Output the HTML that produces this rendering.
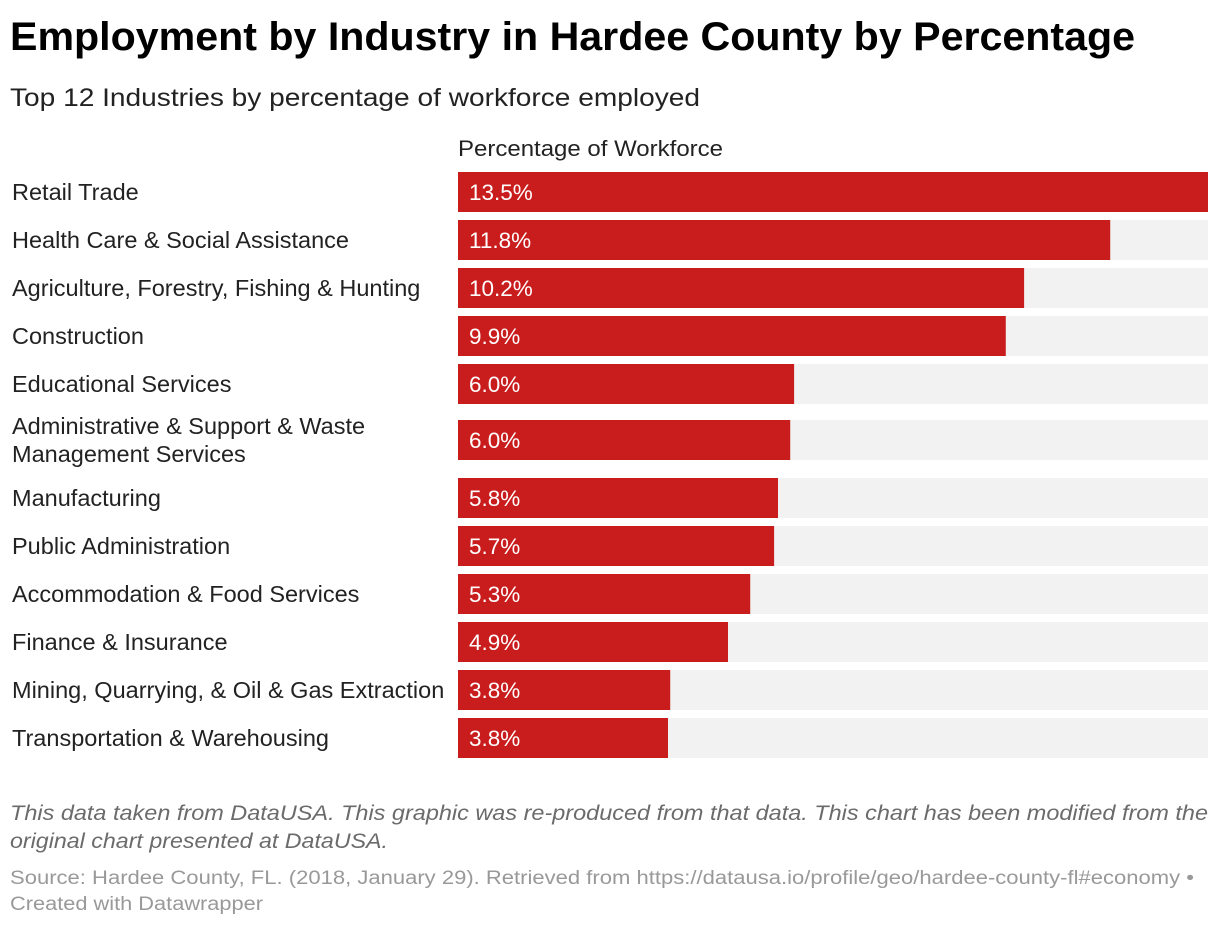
<!DOCTYPE html>
<html><head><meta charset="utf-8"><style>
body{margin:0;background:#fff;}
svg{display:block;font-family:"Liberation Sans",Arial,sans-serif;}
</style></head><body>
<svg id="chart" width="1220" height="926" viewBox="0 0 1220 926">
<text x="10" y="50" font-size="40" font-weight="bold" fill="#000" textLength="1125" lengthAdjust="spacingAndGlyphs">Employment by Industry in Hardee County by Percentage</text>
<text x="10" y="106" font-size="25" fill="#222" textLength="690" lengthAdjust="spacingAndGlyphs">Top 12 Industries by percentage of workforce employed</text>
<text x="458" y="156" font-size="22" fill="#222" textLength="265" lengthAdjust="spacingAndGlyphs">Percentage of Workforce</text>
<g id="bars"></g>
<text x="10" y="820" font-size="21" font-style="italic" fill="#6b6b6b" textLength="1198" lengthAdjust="spacingAndGlyphs">This data taken from DataUSA. This graphic was re-produced from that data. This chart has been modified from the</text>
<text x="10" y="848" font-size="21" font-style="italic" fill="#6b6b6b" textLength="378" lengthAdjust="spacingAndGlyphs">original chart presented at DataUSA.</text>
<text x="10" y="884" font-size="19" fill="#999" textLength="1184" lengthAdjust="spacingAndGlyphs">Source: Hardee County, FL. (2018, January 29). Retrieved from https://datausa.io/profile/geo/hardee-county-fl#economy •</text>
<text x="10" y="910" font-size="19" fill="#999" textLength="253" lengthAdjust="spacingAndGlyphs">Created with Datawrapper</text>
</svg>
<script>
const categories = ["Retail Trade","Health Care & Social Assistance","Agriculture, Forestry, Fishing & Hunting","Construction","Educational Services","Administrative & Support & Waste|Management Services","Manufacturing","Public Administration","Accommodation & Food Services","Finance & Insurance","Mining, Quarrying, & Oil & Gas Extraction","Transportation & Warehousing"];
const values = [13.5,11.74,10.19,9.86,6.05,5.98,5.76,5.69,5.26,4.86,3.82,3.78];
const valueLabels = ["13.5%","11.8%","10.2%","9.9%","6.0%","6.0%","5.8%","5.7%","5.3%","4.9%","3.8%","3.8%"];
const maxValue = 13.5;

const NS = "http://www.w3.org/2000/svg";
const g = document.getElementById("bars");
const x0 = 458, plotW = 750, barH = 40;
function xScale(v){ return v / maxValue * plotW; }
let y = 172;
categories.forEach((cat, i) => {
  const lines = cat.split("|");
  const multi = lines.length > 1;
  if (multi) y += 8;
  const top = y;
  const bg = document.createElementNS(NS, "rect");
  bg.setAttribute("x", x0); bg.setAttribute("y", top); bg.setAttribute("width", plotW); bg.setAttribute("height", barH); bg.setAttribute("fill", "#f2f2f2");
  
  
  g.appendChild(bg);
  const r = document.createElementNS(NS, "rect");
  r.setAttribute("x", x0); r.setAttribute("y", top); r.setAttribute("width", xScale(values[i])); r.setAttribute("height", barH); r.setAttribute("fill", "#c91d1d");
  
  
  g.appendChild(r);
  const vt = document.createElementNS(NS, "text");
  vt.setAttribute("x", x0 + 11); vt.setAttribute("y", top + 28); vt.setAttribute("font-size", "22.5"); vt.setAttribute("fill", "#fff");
  vt.textContent = valueLabels[i];
  
  
  g.appendChild(vt);
  lines.forEach((ln, k) => {
    const t = document.createElementNS(NS, "text");
    const ly = multi ? top + 14 + k * 28 : top + 28;
    t.setAttribute("x", 12); t.setAttribute("y", ly); t.setAttribute("font-size", "23.5"); t.setAttribute("fill", "#222");
    t.textContent = ln;
    
    
    g.appendChild(t);
  });
  y += multi ? 58 : 48;
});
</script>
</body></html>
